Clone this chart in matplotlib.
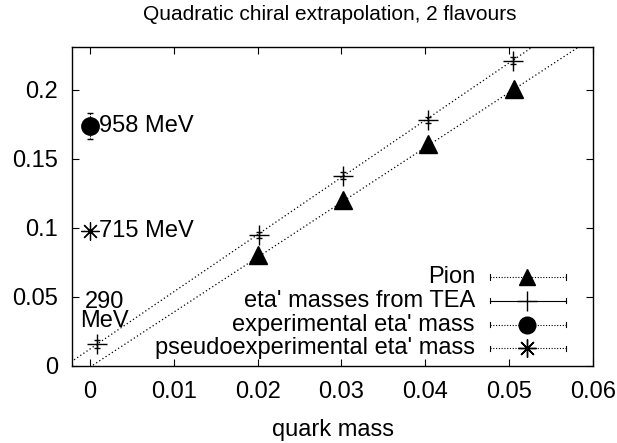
import numpy as np
import matplotlib
matplotlib.use('Agg')
import matplotlib.pyplot as plt

plt.rcParams['font.family'] = ['Liberation Sans', 'DejaVu Sans']

# Pion
pion_x = [0.0201, 0.0302, 0.0403, 0.0506]
pion_y = [0.0804, 0.1203, 0.1609, 0.2007]
pion_err = [0.0005, 0.0005, 0.0005, 0.0005]

# eta' masses from TEA
tea_x = [0.0008, 0.0202, 0.0302, 0.0403, 0.0504]
tea_y = [0.0160, 0.0949, 0.1377, 0.1780, 0.2210]
tea_err = [0.0030, 0.0020, 0.0025, 0.0020, 0.0025]

# experimental / pseudoexperimental eta' mass
exp_x = [0.0]
exp_y = [0.174]
exp_err = [0.0094]
pseudo_x = [0.0]
pseudo_y = [0.0975]

# extrapolation curves (c0, c1, c2)
fit_tea = [0.0123, 4.144, 0.0]
fit_pion = [-0.0008, 3.977, 0.0]

annotations = [('958 MeV', 0.0011, 0.174, 'left'),
               ('715 MeV', 0.0011, 0.0975, 'left'),
               ('290\nMeV', 0.0017, 0.0395, 'center')]

legend_labels = ['Pion', "eta' masses from TEA",
                 "experimental eta' mass", "pseudoexperimental eta' mass"]

FS = 17

fig = plt.figure(figsize=(6.17, 4.43), dpi=100)
ax = fig.add_axes([72 / 617, 1 - 366 / 443, 521 / 617, 319 / 443])

xs = np.linspace(-0.003, 0.061, 200)
for c in (fit_tea, fit_pion):
    ax.plot(xs, c[0] + c[1] * xs + c[2] * xs ** 2, color='black', lw=0.9,
            ls=(0, (1, 2)), zorder=1)

ax.errorbar(pion_x, pion_y, yerr=pion_err, fmt='^', color='black', ms=13,
            capsize=2, elinewidth=0.8, zorder=3)
ax.errorbar(tea_x, tea_y, yerr=tea_err, fmt='+', color='black', ms=14,
            mew=1.0, capsize=2.5, elinewidth=1.0, zorder=3)
eb = ax.errorbar(exp_x, exp_y, yerr=exp_err, fmt='o', color='black', ms=12.5,
                 capsize=2, elinewidth=0.8, zorder=3)
eb[2][0].set_linestyle((0, (1, 1)))
ax.plot(pseudo_x, pseudo_y, marker=(8, 2, 0), color='black', ms=13, mew=0.9,
        ls='none', zorder=3)

for txt, x, y, ha in annotations:
    ax.text(x, y, txt, ha=ha, va='center', fontsize=FS, linespacing=0.8)

ax.set_xlim(-0.00214, 0.0599)
ax.set_ylim(0, 0.231)
ax.set_xticks([0, 0.01, 0.02, 0.03, 0.04, 0.05, 0.06])
ax.set_xticklabels(['0', '0.01', '0.02', '0.03', '0.04', '0.05', '0.06'])
ax.set_yticks([0, 0.05, 0.1, 0.15, 0.2])
ax.set_yticklabels(['0', '0.05', '0.1', '0.15', '0.2'])
ax.tick_params(direction='in', top=True, right=True, length=5, width=0.8,
               labelsize=FS)
ax.tick_params(axis='x', pad=11)
ax.tick_params(axis='y', pad=10)
for s in ax.spines.values():
    s.set_linewidth(1.0)

ax.set_xlabel('quark mass', fontsize=FS, labelpad=11)
fig.text(0.535, 1 - 14 / 443, 'Quadratic chiral extrapolation, 2 flavours',
         ha='center', va='center', fontsize=15)

# gnuplot-style key
tr = ax.transAxes
rows = [0.279, 0.204, 0.129, 0.056]
styles = [('^', 12, (0, (1, 1.5))), ('+', 14, '-'),
          ('o', 12, (0, (1, 1.5))), ((8, 2, 0), 13, (0, (1, 1.5)))]
x0, x1, xm = 0.802, 0.948, 0.873
for lab, yy, (mk, ms, ls) in zip(legend_labels, rows, styles):
    ax.text(0.7735, yy, lab, transform=tr, ha='right', va='center', fontsize=FS)
    ax.plot([x0, x1], [yy, yy], transform=tr, color='black', lw=0.8, ls=ls,
            clip_on=False)
    for xe in (x0, x1):
        ax.plot([xe, xe], [yy - 0.008, yy + 0.008], transform=tr,
                color='black', lw=0.8, clip_on=False)
    ax.plot([xm], [yy], transform=tr, marker=mk, ms=ms, color='black',
            mew=1.0, ls='none', clip_on=False)

fig.savefig('out.png', dpi=100)
